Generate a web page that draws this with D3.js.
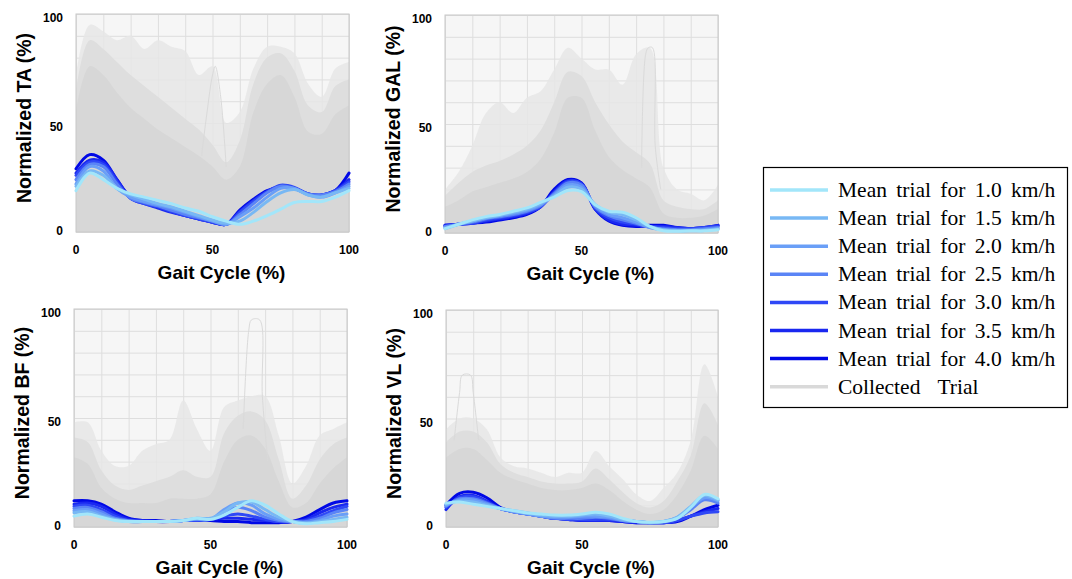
<!DOCTYPE html>
<html>
<head>
<meta charset="utf-8">
<script src="https://cdn.jsdelivr.net/npm/d3@7"></script>
<style>
  body { margin: 0; background: #fff; }
  svg { display: block; }
</style>
</head>
<body>
<div id="chart"></div>
<script>
// gait cycle samples (%)
const gaitPct = [0, 5, 10, 15, 20, 25, 30, 35, 40, 45, 50, 55, 60, 65, 70, 75, 80, 85, 90, 95, 100];

const speeds = ["1.0", "1.5", "2.0", "2.5", "3.0", "3.5", "4.0"];
const speedColors = ["#a2e6fa", "#78b8f4", "#6a9ff7", "#5a84f6", "#2f48f6", "#1a28f0", "#0008e6"];
const trialColor = "#d9d9d9";

// mean trials, one row per speed (1.0 ... 4.0 km/h)
const taMeans = [
  [19, 27, 24, 20, 17.5, 16, 14.5, 13, 11, 9.5, 7, 5, 3.5, 5, 7.5, 10.5, 13.5, 14, 14, 16, 19],
  [21, 28, 26, 20, 17, 15, 13, 11.5, 9.5, 7.5, 5.5, 4, 5, 9, 14, 18, 19.5, 17, 16, 18, 20],
  [22, 30, 28, 20, 16, 14, 12.5, 11, 9, 7, 5, 3.5, 7, 11, 16, 20, 20, 17, 16, 18, 21],
  [24, 31, 30, 22, 15.5, 13.5, 12, 10, 8, 6.5, 5, 3.5, 8, 13, 18, 21, 20, 17.5, 17, 18.5, 22],
  [26, 32, 31, 23, 15.5, 13, 11.5, 9.5, 7.5, 6, 4.5, 3.5, 9, 14, 18.5, 21.5, 20.5, 17.5, 17, 19, 23],
  [27, 33, 32, 24, 15.5, 13, 11, 9, 7.5, 6, 4.5, 3.5, 9.5, 14.5, 18.5, 21, 20, 17.5, 17, 19, 24],
  [29, 35.5, 33, 24, 16, 13.5, 11.5, 9.5, 7.5, 6, 4.5, 3.5, 10, 15, 19, 20.5, 20, 17.5, 17, 19, 27]
];
const galMeans = [
  [2, 4, 6, 7.5, 8.5, 10, 11.5, 14, 16.5, 19.5, 19, 13, 10, 9.5, 7, 3, 1, 0.8, 1, 1, 1.5],
  [2, 4, 5.5, 7, 8, 9.5, 11, 13.5, 17, 21, 20, 13, 9.5, 8.5, 6, 3, 1.5, 1, 1, 1.2, 1.8],
  [2.5, 4, 5.5, 7, 8, 9, 10.5, 13, 17.5, 22, 21, 12.5, 8.5, 7, 5, 2.5, 1.5, 1.2, 1.2, 1.5, 2],
  [3, 4, 5, 6.5, 7.5, 8.5, 10, 12.5, 18, 23, 22, 12, 8, 6, 4.5, 2.5, 2, 1.5, 1.5, 2, 2.5],
  [3, 4, 4.5, 6, 7, 8, 9.5, 12, 18.5, 23.5, 22.5, 11.5, 7, 5, 4, 3, 2.5, 2, 2, 2.5, 3],
  [3.5, 4, 4.5, 5.5, 6.5, 7.5, 9, 12, 19, 24, 22.5, 11, 6, 4, 3.5, 3, 3, 2.5, 2, 2.5, 3.5],
  [3.5, 4, 4.5, 5, 6, 7, 8.5, 12, 20, 24.5, 23, 11, 5.5, 3.5, 3, 3.5, 3.5, 2.5, 2, 2.5, 3.5]
];
const bfMeans = [
  [5, 6, 4.5, 3, 2.5, 2.5, 2.5, 2.5, 3, 4, 3.5, 5.5, 9, 12, 10, 6, 2.5, 1.5, 2, 2.5, 3.5],
  [6.5, 7, 5, 3.5, 2.5, 2.5, 2.5, 2.5, 3, 4, 4, 7, 11, 11.5, 8, 4.5, 2.5, 1.8, 2.5, 3.5, 4.5],
  [7.5, 8, 6, 3.5, 2.5, 2.5, 2.5, 2.5, 3, 3.5, 3.5, 8, 11, 10, 6, 3.5, 2.5, 2, 3, 5, 6],
  [8.5, 9, 7, 4, 3, 2.5, 2.5, 2.5, 3, 3.5, 3.5, 7, 9, 7.5, 4.5, 3, 2.5, 2.5, 4, 6.5, 8],
  [9.5, 10, 8, 5, 3, 2.5, 2.5, 2.5, 3, 3, 3.5, 5, 6, 5, 3.5, 2.5, 2.5, 3, 5, 7.5, 9.5],
  [10.5, 11, 9.5, 6, 3.5, 3, 2.5, 2.5, 3, 3, 3.5, 4, 4, 3.5, 3, 2.5, 2.5, 3.5, 6.5, 9, 10.5],
  [12, 12, 10.5, 7, 4, 3, 3, 2.5, 3, 3, 3, 2.5, 2.5, 2, 2, 2, 2.5, 4.5, 8, 11, 12]
];
const vlMeans = [
  [11, 11.5, 10.5, 9.5, 8.5, 7.5, 6.5, 6, 5.5, 5.5, 6, 6.8, 6, 4, 2.5, 2.2, 2.5, 4, 9, 15, 13],
  [10.5, 12, 11.5, 10, 8.5, 7.5, 6.5, 5.5, 5, 5, 5.5, 6, 5, 3.5, 2.5, 2, 2.5, 4.5, 9.5, 14.5, 12.5],
  [10, 12.5, 12.5, 10.5, 8.5, 7, 6, 5, 4.5, 4.5, 5, 5, 4.5, 3, 2.5, 2, 2.5, 4.5, 9, 13.5, 12],
  [9.5, 13, 13, 11, 8.5, 7, 6, 5, 4, 4, 4, 4.5, 4, 3, 2.5, 2, 2.3, 4, 8, 12.5, 11],
  [9, 13.5, 14, 11.5, 8.5, 7, 6, 5, 4, 3.5, 3.5, 3.5, 3.5, 3, 2.5, 2, 2, 3, 5, 6.5, 7],
  [8, 14, 14.5, 12, 8.5, 7, 6, 5, 4, 3.5, 3, 3, 3, 2.5, 2, 2, 2, 3, 5, 7, 8.5],
  [10, 15.5, 16, 13.5, 9, 7, 6, 5, 4, 3.5, 3, 3, 3, 2.5, 2, 2, 2, 2.5, 5, 8, 10]
];

// collected trials: envelope of the grey cloud (max, upper, dense core)
const taMax   = [72, 95, 92, 88, 90, 84, 88, 85, 83, 72, 76, 50, 55, 75, 85, 85, 82, 68, 62, 75, 78];
const taUpper = [65, 88, 84, 78, 72, 67, 62, 57, 52, 47, 40, 32, 42, 68, 80, 82, 74, 58, 55, 67, 70];
const taDense = [56, 76, 72, 64, 57, 52, 47, 43, 39, 35, 30, 24, 30, 55, 68, 72, 62, 46, 45, 54, 58];
const galMax   = [20, 28, 40, 55, 60, 55, 62, 65, 75, 85, 80, 75, 75, 68, 82, 85, 30, 20, 18, 15, 22];
const galUpper = [17, 23, 28, 31, 33, 36, 40, 47, 60, 74, 72, 60, 50, 42, 37, 32, 15, 12, 11, 11, 15];
const galDense = [12, 15, 19, 21, 23, 25, 28, 34, 46, 62, 62, 47, 35, 29, 25, 21, 9, 7, 7, 8, 11];
const bfMax   = [48, 48, 35, 28, 28, 35, 38, 40, 58, 45, 35, 55, 58, 60, 60, 42, 20, 28, 42, 45, 48];
const bfUpper = [41, 39, 26, 19, 17, 19, 21, 23, 26, 23, 23, 43, 51, 53, 49, 31, 13, 19, 31, 38, 41];
const bfDense = [32, 29, 18, 13, 11, 11, 11, 13, 13, 13, 15, 30, 40, 42, 36, 21, 9, 11, 20, 27, 32];
const vlMax   = [45, 50, 50, 45, 32, 28, 27, 25, 23, 25, 25, 35, 28, 22, 15, 12, 18, 25, 40, 75, 60];
const vlUpper = [39, 44, 44, 39, 29, 25, 23, 21, 20, 20, 21, 27, 22, 16, 11, 9, 12, 21, 33, 57, 47];
const vlDense = [32, 36, 36, 31, 25, 22, 20, 18, 17, 17, 18, 20, 17, 12, 8, 6, 8, 15, 26, 42, 36];

// a few stray trials that stick out of the cloud: [gait %, value]
const taStray  = [[46, 35], [48, 55], [50, 72], [51, 76], [53, 62], [55, 30]];
const galStray = [[72, 30], [73.5, 82], [74.5, 85], [76, 85], [77, 40], [79, 20]];
const bfStray  = [[62, 45], [64, 90], [65, 95], [68, 95], [69, 60], [71, 30]];
const vlStray  = [[3, 40], [5, 62], [6, 70], [9, 70], [10, 62], [12, 40]];

const muscles = ["TA", "GAL", "BF", "VL"];
const yTicks = [0, 50, 100];
const xTicks = [0, 50, 100];

const width = 1072, height = 579;

const svg = d3.select("#chart").append("svg")
    .attr("width", width)
    .attr("height", height)
    .style("font-family", "'Liberation Sans', Arial, sans-serif");

// plot boxes: left, right, top, bottom
const boxes = [
    [76, 349, 14, 232],
    [445, 718, 15, 233],
    [74, 347, 309, 527],
    [446, 718, 310, 527]
];
const meansByMuscle = [taMeans, galMeans, bfMeans, vlMeans];
const envByMuscle = [
    [taMax, taUpper, taDense, taStray],
    [galMax, galUpper, galDense, galStray],
    [bfMax, bfUpper, bfDense, bfStray],
    [vlMax, vlUpper, vlDense, vlStray]
];

muscles.forEach(function(name, i) {
    const [x0, x1, y0, y1] = boxes[i];
    const x = d3.scaleLinear().domain([0, 100]).range([x0, x1]);
    const y = d3.scaleLinear().domain([0, 100]).range([y1, y0]);
    const g = svg.append("g");
    const clipId = "clip" + i;

    g.append("clipPath").attr("id", clipId)
        .append("rect").attr("x", x0).attr("y", y0).attr("width", x1 - x0).attr("height", y1 - y0);

    // background + grid
    g.append("rect")
        .attr("x", x0).attr("y", y0)
        .attr("width", x1 - x0).attr("height", y1 - y0)
        .attr("fill", "#f6f6f6");

    g.append("g")
        .attr("transform", `translate(0,${y1})`)
        .call(d3.axisBottom(x).ticks(10).tickSize(-(y1 - y0)).tickFormat(""))
        .call(a => a.select(".domain").remove())
        .call(a => a.selectAll("line").attr("stroke", "#dedede"));
    g.append("g")
        .attr("transform", `translate(${x0},0)`)
        .call(d3.axisLeft(y).ticks(10).tickSize(-(x1 - x0)).tickFormat(""))
        .call(a => a.select(".domain").remove())
        .call(a => a.selectAll("line").attr("stroke", "#dedede"));

    // collected trials cloud
    const [envMax, envUpper, envDense, stray] = envByMuscle[i];
    const cloud = g.append("g").attr("clip-path", `url(#${clipId})`);
    const band = vals => d3.area()
        .x((d, k) => x(gaitPct[k]))
        .y0(y(0))
        .y1(d => y(d))
        .curve(d3.curveCatmullRom)(vals);
    cloud.append("path").attr("d", band(envMax)).attr("fill", "#e6e6e6").attr("opacity", 0.85);
    cloud.append("path").attr("d", band(envUpper)).attr("fill", "#dedede");
    cloud.append("path").attr("d", band(envDense)).attr("fill", "#d7d7d7");
    cloud.append("path")
        .attr("d", d3.line().x(d => x(d[0])).y(d => y(d[1])).curve(d3.curveCatmullRom)(stray))
        .attr("fill", "none")
        .attr("stroke", "#dadada")
        .attr("stroke-width", 1);

    // frame
    g.append("rect")
        .attr("x", x0).attr("y", y0)
        .attr("width", x1 - x0).attr("height", y1 - y0)
        .attr("fill", "none")
        .attr("stroke", "#c8c8c8")
        .attr("stroke-width", 1);

    // mean trials, fastest first so the slow ones sit on top
    const line = d3.line()
        .x((d, k) => x(gaitPct[k]))
        .y(d => y(d))
        .curve(d3.curveCatmullRom);
    const means = meansByMuscle[i];
    for (let s = speeds.length - 1; s >= 0; s--) {
        g.append("path")
            .attr("d", line(means[s]))
            .attr("fill", "none")
            .attr("stroke", speedColors[s])
            .attr("stroke-width", 3)
            .attr("stroke-linejoin", "round")
            .attr("stroke-linecap", "round");
    }

    // tick labels
    g.selectAll(".ytick").data(yTicks).enter().append("text")
        .attr("x", x0 - 13)
        .attr("y", d => y(d) + (d === 0 ? -1 : 4))
        .attr("text-anchor", "end")
        .attr("dominant-baseline", "central")
        .attr("font-size", "12px")
        .attr("font-weight", "bold")
        .text(d => d);
    g.selectAll(".xtick").data(xTicks).enter().append("text")
        .attr("x", d => x(d))
        .attr("y", y1 + 18)
        .attr("text-anchor", "middle")
        .attr("dominant-baseline", "central")
        .attr("font-size", "12px")
        .attr("font-weight", "bold")
        .text(d => d);

    // axis titles
    g.append("text")
        .attr("x", (x0 + x1) / 2 + 9)
        .attr("y", y1 + 40)
        .attr("text-anchor", "middle")
        .attr("dominant-baseline", "central")
        .attr("font-size", "19px")
        .attr("font-weight", "bold")
        .text("Gait Cycle (%)");
    g.append("text")
        .attr("transform", `translate(${x0 - 52},${(y0 + y1) / 2 - 5}) rotate(-90)`)
        .attr("text-anchor", "middle")
        .attr("dominant-baseline", "central")
        .attr("font-size", "19.5px")
        .attr("font-weight", "bold")
        .text(`Normalized ${name} (%)`);
});

// legend
const legend = svg.append("g").style("font-family", "'Liberation Serif', 'Times New Roman', serif");
legend.append("rect")
    .attr("x", 763.5).attr("y", 167.5)
    .attr("width", 304).attr("height", 240)
    .attr("fill", "#fff")
    .attr("stroke", "#000")
    .attr("stroke-width", 1.2);

const legendItems = speeds.map((s, k) => ({ label: `Mean trial for ${s} km/h`, color: speedColors[k] }))
    .concat([{ label: "Collected Trial", color: trialColor }]);

legendItems.forEach(function(item, k) {
    const cy = 190 + k * 28.1;
    legend.append("line")
        .attr("x1", 770).attr("x2", 828)
        .attr("y1", cy).attr("y2", cy)
        .attr("stroke", item.color)
        .attr("stroke-width", 3.5);
    legend.append("text")
        .attr("x", 838)
        .attr("y", cy)
        .attr("dominant-baseline", "central")
        .attr("font-size", "21.5px")
        .attr("word-spacing", k < speeds.length ? "4px" : "12px")
        .text(item.label);
});
</script>
</body>
</html>
